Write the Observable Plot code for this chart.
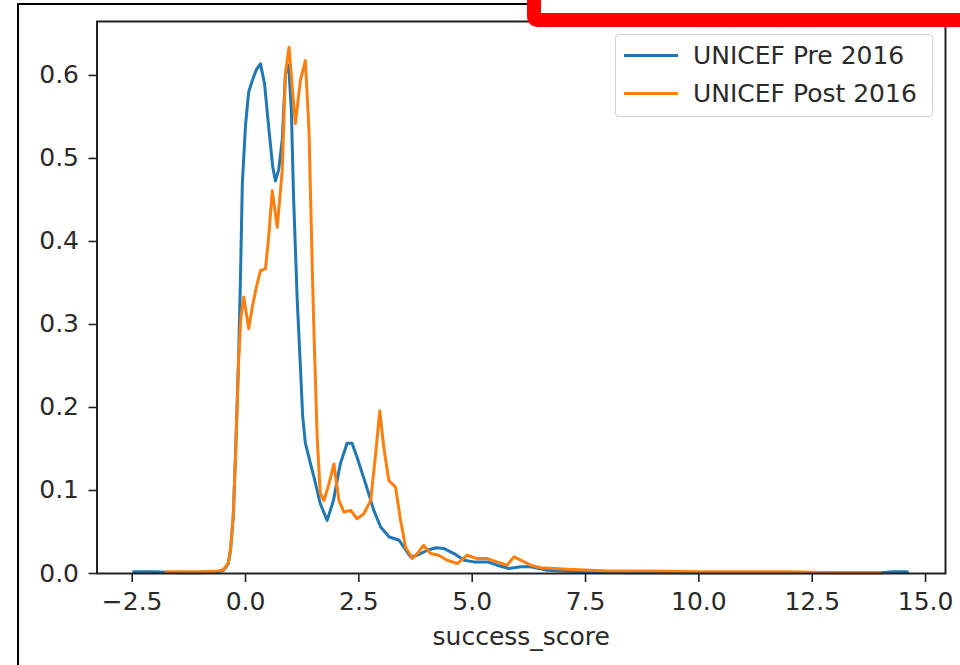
<!DOCTYPE html>
<html><head><meta charset="utf-8">
<script src="https://cdn.jsdelivr.net/npm/d3@7"></script>
<script src="https://cdn.jsdelivr.net/npm/@observablehq/plot@0.6"></script>
<style>
html,body{margin:0;padding:0;background:#fff;}
#wrap{position:relative;width:960px;height:665px;overflow:hidden;font-family:"DejaVu Sans",sans-serif;}
#chart{position:absolute;left:0;top:0;}
#border{position:absolute;left:17px;top:3px;width:2000px;height:2000px;border-left:2px solid #000;border-top:2px solid #000;}
#red{position:absolute;box-sizing:border-box;left:527px;top:-40px;width:600px;height:67px;border:14px solid #f00;border-radius:10px;background:#fff;}
#legend{position:absolute;box-sizing:border-box;left:615px;top:34px;width:318px;height:83px;border:1px solid #d0d0d0;border-radius:4px;background:rgba(255,255,255,0.85);}
.item{position:absolute;left:0;height:30px;width:316px;}
.item .ln{position:absolute;left:8px;top:13px;width:54px;height:3px;}
.item .tx{position:absolute;left:77px;top:0;line-height:30px;font-size:25px;color:#2a2a2a;white-space:nowrap;}
</style></head>
<body>
<div id="wrap">
  <div id="border"></div>
  <div id="chart"></div>
  <div id="legend"></div>
  <div id="red"></div>
</div>
<script>
const seriesNames = ["UNICEF Pre 2016", "UNICEF Post 2016"];
const seriesColors = ["#1f77b4", "#ff7f0e"];
const xTicks = [-2.5, 0, 2.5, 5, 7.5, 10, 12.5, 15];
const yTicks = [0, 0.1, 0.2, 0.3, 0.4, 0.5, 0.6];
const xLabel = "success_score";

const preScore = [-2.47,-2.0,-1.5,-1.0,-0.6,-0.48,-0.38,-0.33,-0.27,-0.22,-0.15,-0.11,-0.07,0.0,0.07,0.15,0.24,0.33,0.42,0.51,0.60,0.66,0.73,0.81,0.88,0.95,1.01,1.06,1.14,1.21,1.26,1.32,1.42,1.51,1.65,1.80,1.94,2.09,2.24,2.35,2.46,2.65,2.83,2.98,3.17,3.39,3.49,3.64,3.79,4.01,4.20,4.38,4.60,4.82,5.04,5.34,5.55,5.81,6.07,6.29,6.66,7.0,7.5,8.5,10,11.5,12.5,13.5,14.0,14.3,14.6];
const preDensity = [0.002,0.002,0.001,0.001,0.002,0.004,0.012,0.028,0.07,0.145,0.265,0.36,0.47,0.54,0.58,0.594,0.607,0.614,0.59,0.538,0.49,0.473,0.486,0.522,0.602,0.612,0.56,0.453,0.33,0.25,0.19,0.157,0.135,0.116,0.084,0.064,0.088,0.132,0.157,0.157,0.140,0.108,0.076,0.056,0.044,0.040,0.032,0.020,0.022,0.028,0.031,0.030,0.024,0.016,0.014,0.014,0.010,0.006,0.008,0.008,0.004,0.003,0.002,0.001,0.001,0.001,0.001,0.001,0.001,0.002,0.002];

const postScore = [-1.75,-1.0,-0.6,-0.48,-0.38,-0.33,-0.27,-0.22,-0.15,-0.1,-0.04,0.07,0.15,0.24,0.33,0.44,0.51,0.59,0.70,0.81,0.88,0.96,1.03,1.10,1.21,1.32,1.40,1.47,1.51,1.58,1.65,1.73,1.84,1.95,2.06,2.17,2.32,2.46,2.61,2.76,2.87,2.96,3.05,3.16,3.31,3.42,3.53,3.68,3.79,3.93,4.08,4.26,4.45,4.67,4.89,5.11,5.33,5.55,5.77,5.92,6.07,6.29,6.51,6.80,7.10,8.0,9.0,10.0,11.0,12.0,13.0,14.0];
const postDensity = [0.002,0.002,0.003,0.005,0.013,0.03,0.07,0.14,0.26,0.31,0.333,0.295,0.321,0.345,0.365,0.367,0.405,0.461,0.417,0.486,0.602,0.634,0.586,0.542,0.594,0.618,0.534,0.373,0.29,0.164,0.096,0.088,0.108,0.132,0.088,0.074,0.076,0.066,0.072,0.088,0.144,0.196,0.152,0.112,0.104,0.064,0.032,0.018,0.024,0.034,0.024,0.022,0.016,0.012,0.022,0.018,0.018,0.014,0.010,0.020,0.016,0.010,0.007,0.006,0.005,0.003,0.003,0.002,0.002,0.002,0.001,0.001];

const pre = preScore.map((x, i) => ({x, y: preDensity[i]}));
const post = postScore.map((x, i) => ({x, y: postDensity[i]}));
const fmt = d3.format(".1f");

const chart = Plot.plot({
  width: 960, height: 665,
  marginLeft: 96.5, marginRight: 15, marginTop: 21, marginBottom: 92,
  x: {domain: [-3.276, 15.44]},
  y: {domain: [0, 0.665]},
  style: {fontFamily: "DejaVu Sans", fontSize: "25px", color: "#2a2a2a", background: "transparent"},
  marks: [
    Plot.line(pre, {x: "x", y: "y", stroke: seriesColors[0], strokeWidth: 3}),
    Plot.line(post, {x: "x", y: "y", stroke: seriesColors[1], strokeWidth: 3}),
    Plot.frame({stroke: "#222", strokeWidth: 2}),
    Plot.axisX({ticks: xTicks, tickFormat: fmt, tickSize: 9, tickPadding: 10, label: null, stroke: "#222", strokeWidth: 1.6}),
    Plot.axisY({ticks: yTicks, tickFormat: fmt, tickSize: 8, tickPadding: 10, label: null, stroke: "#222", strokeWidth: 1.6}),
    Plot.text([xLabel], {frameAnchor: "bottom", dy: 63, lineAnchor: "middle", textAnchor: "middle", fill: "#2a2a2a"})
  ]
});
document.getElementById("chart").appendChild(chart);

const legend = document.getElementById("legend");
seriesNames.forEach((name, i) => {
  const item = document.createElement("div");
  item.className = "item";
  item.style.top = (6 + i * 38) + "px";
  const ln = document.createElement("div");
  ln.className = "ln";
  ln.style.background = seriesColors[i];
  const tx = document.createElement("div");
  tx.className = "tx";
  tx.textContent = name;
  item.appendChild(ln); item.appendChild(tx);
  legend.appendChild(item);
});
</script>
</body></html>
